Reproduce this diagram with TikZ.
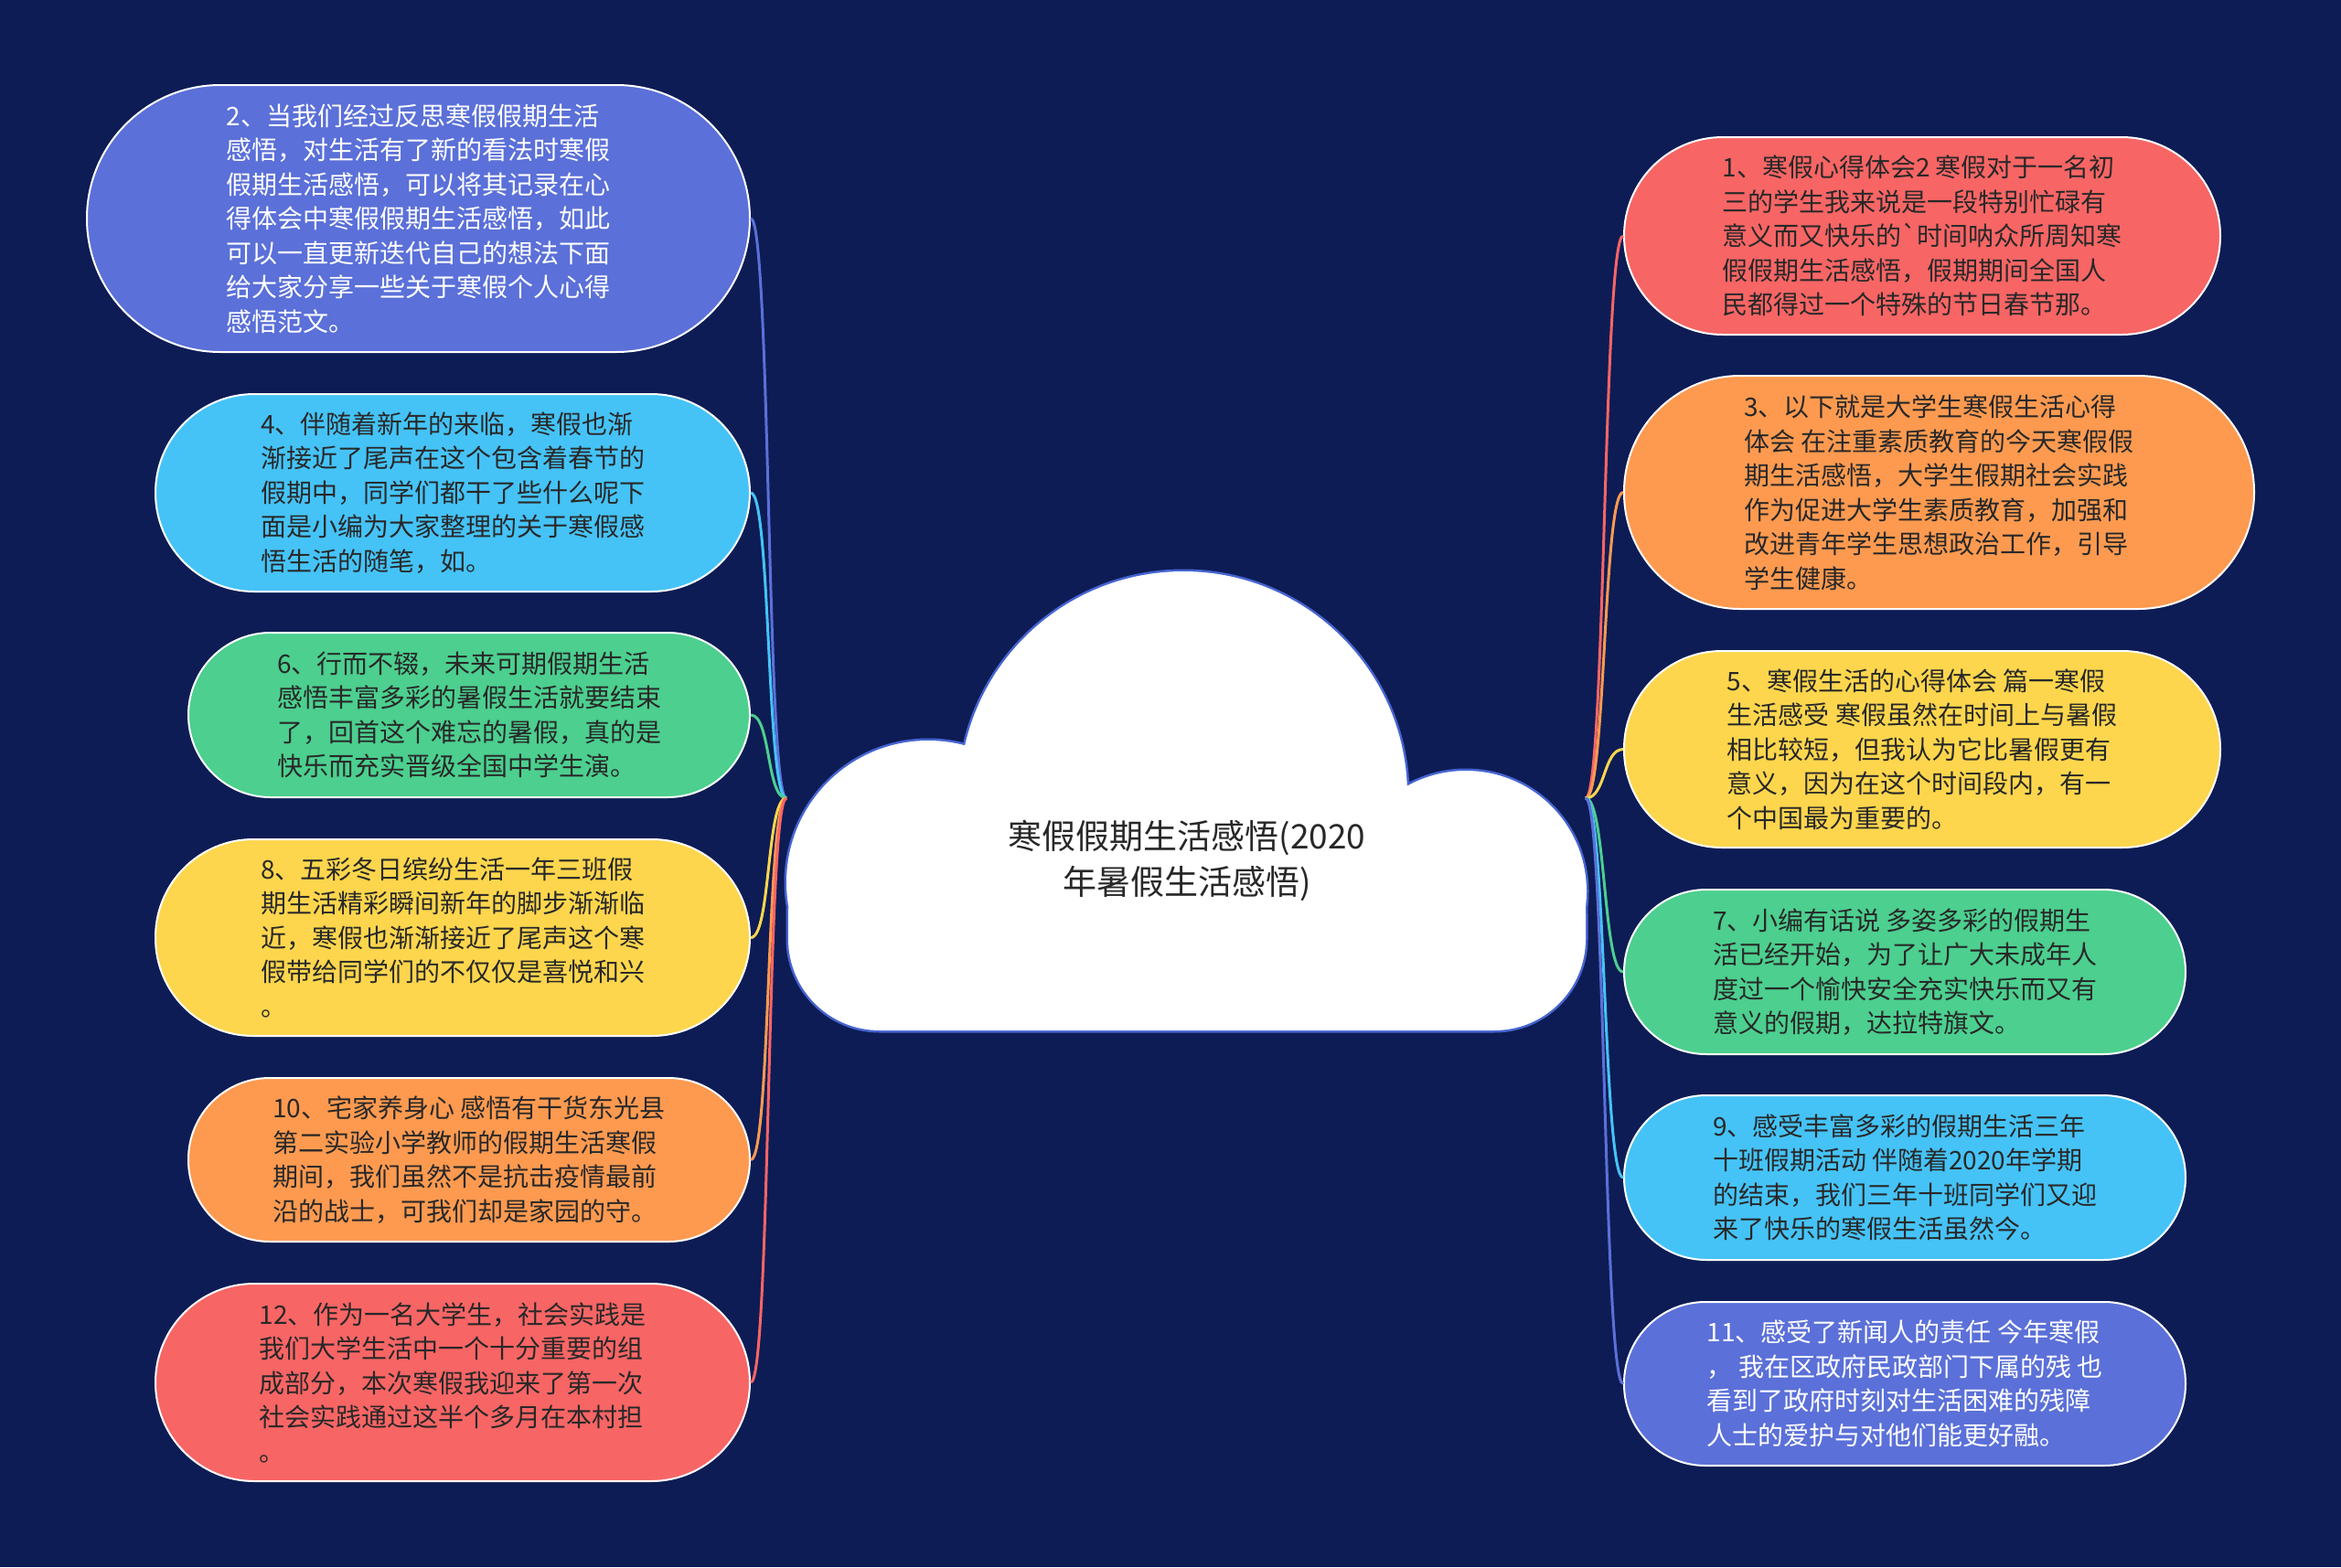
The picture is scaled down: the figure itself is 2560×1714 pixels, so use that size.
\documentclass[tikz,border=0pt]{standalone}
\usepackage{fontspec}
\newfontfamily\cjk{Noto Sans CJK SC}
\definecolor{bgnavy}{RGB}{13,28,84}
\definecolor{cblue}{RGB}{91,112,216}
\definecolor{clight}{RGB}{69,195,247}
\definecolor{cgreen}{RGB}{76,207,143}
\definecolor{cyellow}{RGB}{253,214,77}
\definecolor{corange}{RGB}{253,154,80}
\definecolor{cred}{RGB}{248,101,101}
\definecolor{textdark}{RGB}{40,40,40}
\definecolor{cloudedge}{RGB}{70,100,210}
\tikzset{
  leaf/.style={draw=white, line width=2pt, align=left, text=textdark, inner sep=0pt,
    font=\cjk\fontsize{28}{37.5}\selectfont},
  conn/.style={line width=3pt},
  titletext/.style={align=center, text=textdark, font=\cjk\fontsize{37}{50}\selectfont}
}
\newcommand{\cloudpath}{(1294,870) circle[radius=245pt] (1015,965) circle[radius=155pt] (1603,975) circle[radius=132pt] [rounded corners=100pt] (862,900) rectangle (1734,1127)}
\begin{document}
\begin{tikzpicture}[x=1pt,y=-1pt]
\fill[bgnavy] (0,0) rectangle (2560,1714);
\useasboundingbox (0,0) rectangle (2560,1714);

% nodes left
\node[leaf, fill=cblue, text=white, minimum width=725pt, minimum height=292pt, rounded corners=146pt] (n2) at (457.5,239) {2、当我们经过反思寒假假期生活\\感悟，对生活有了新的看法时寒假\\假期生活感悟，可以将其记录在心\\得体会中寒假假期生活感悟，如此\\可以一直更新迭代自己的想法下面\\给大家分享一些关于寒假个人心得\\感悟范文。};
\node[leaf, fill=clight, minimum width=650pt, minimum height=216pt, rounded corners=108pt] (n4) at (495,539) {4、伴随着新年的来临，寒假也渐\\渐接近了尾声在这个包含着春节的\\假期中，同学们都干了些什么呢下\\面是小编为大家整理的关于寒假感\\悟生活的随笔，如。};
\node[leaf, fill=cgreen, minimum width=614pt, minimum height=180pt, rounded corners=90pt] (n6) at (513,782) {6、行而不辍，未来可期假期生活\\感悟丰富多彩的暑假生活就要结束\\了，回首这个难忘的暑假，真的是\\快乐而充实晋级全国中学生演。};
\node[leaf, fill=cyellow, minimum width=650pt, minimum height=215pt, rounded corners=107pt] (n8) at (495,1025.5) {8、五彩冬日缤纷生活一年三班假\\期生活精彩瞬间新年的脚步渐渐临\\近，寒假也渐渐接近了尾声这个寒\\假带给同学们的不仅仅是喜悦和兴\\。};
\node[leaf, fill=corange, minimum width=614pt, minimum height=179pt, rounded corners=89pt] (n10) at (513,1268.5) {10、宅家养身心 感悟有干货东光县\\第二实验小学教师的假期生活寒假\\期间，我们虽然不是抗击疫情最前\\沿的战士，可我们却是家园的守。};
\node[leaf, fill=cred, minimum width=650pt, minimum height=216pt, rounded corners=108pt] (n12) at (495,1512) {12、作为一名大学生，社会实践是\\我们大学生活中一个十分重要的组\\成部分，本次寒假我迎来了第一次\\社会实践通过这半个多月在本村担\\。};

% nodes right
\node[leaf, fill=cred, minimum width=652pt, minimum height=216pt, rounded corners=108pt] (n1) at (2102,258) {1、寒假心得体会2 寒假对于一名初\\三的学生我来说是一段特别忙碌有\\意义而又快乐的\textasciigrave 时间呐众所周知寒\\假假期生活感悟，假期期间全国人\\民都得过一个特殊的节日春节那。};
\node[leaf, fill=corange, minimum width=689pt, minimum height=255pt, rounded corners=127pt] (n3) at (2120.5,538.5) {3、以下就是大学生寒假生活心得\\体会 在注重素质教育的今天寒假假\\期生活感悟，大学生假期社会实践\\作为促进大学生素质教育，加强和\\改进青年学生思想政治工作，引导\\学生健康。};
\node[leaf, fill=cyellow, minimum width=652pt, minimum height=215pt, rounded corners=107pt] (n5) at (2102,819.5) {5、寒假生活的心得体会 篇一寒假\\生活感受 寒假虽然在时间上与暑假\\相比较短，但我认为它比暑假更有\\意义，因为在这个时间段内，有一\\个中国最为重要的。};
\node[leaf, fill=cgreen, minimum width=614pt, minimum height=180pt, rounded corners=90pt] (n7) at (2083,1063) {7、小编有话说 多姿多彩的假期生\\活已经开始，为了让广大未成年人\\度过一个愉快安全充实快乐而又有\\意义的假期，达拉特旗文。};
\node[leaf, fill=clight, minimum width=614pt, minimum height=180pt, rounded corners=90pt] (n9) at (2083,1288) {9、感受丰富多彩的假期生活三年\\十班假期活动 伴随着2020年学期\\的结束，我们三年十班同学们又迎\\来了快乐的寒假生活虽然今。};
\node[leaf, fill=cblue, text=white, minimum width=614pt, minimum height=179pt, rounded corners=89pt] (n11) at (2083,1513.5) {11、感受了新闻人的责任 今年寒假\\，\ 我在区政府民政部门下属的残 也\\看到了政府时刻对生活困难的残障\\人士的爱护与对他们能更好融。};

% junctions
\coordinate (jl) at (860,873);
\coordinate (jr) at (1734,873);

% connectors
\draw[conn, cblue] (jl) .. controls +(-22,0) and +(22,0) .. (n2.east);
\draw[conn, clight] (jl) .. controls +(-22,0) and +(22,0) .. (n4.east);
\draw[conn, cgreen] (jl) .. controls +(-22,0) and +(22,0) .. (n6.east);
\draw[conn, cyellow] (jl) .. controls +(-22,0) and +(22,0) .. (n8.east);
\draw[conn, corange] (jl) .. controls +(-22,0) and +(22,0) .. (n10.east);
\draw[conn, cred] (jl) .. controls +(-22,0) and +(22,0) .. (n12.east);
\draw[conn, cred] (jr) .. controls +(22,0) and +(-22,0) .. (n1.west);
\draw[conn, corange] (jr) .. controls +(22,0) and +(-22,0) .. (n3.west);
\draw[conn, cyellow] (jr) .. controls +(22,0) and +(-22,0) .. (n5.west);
\draw[conn, cgreen] (jr) .. controls +(22,0) and +(-22,0) .. (n7.west);
\draw[conn, clight] (jr) .. controls +(22,0) and +(-22,0) .. (n9.west);
\draw[conn, cblue] (jr) .. controls +(22,0) and +(-22,0) .. (n11.west);

% cloud
\draw[cloudedge, line width=5pt] \cloudpath;
\fill[white] \cloudpath;
\node[titletext] (title) at (1298,941) {寒假假期生活感悟(2020\\年暑假生活感悟)};
\end{tikzpicture}
\end{document}
